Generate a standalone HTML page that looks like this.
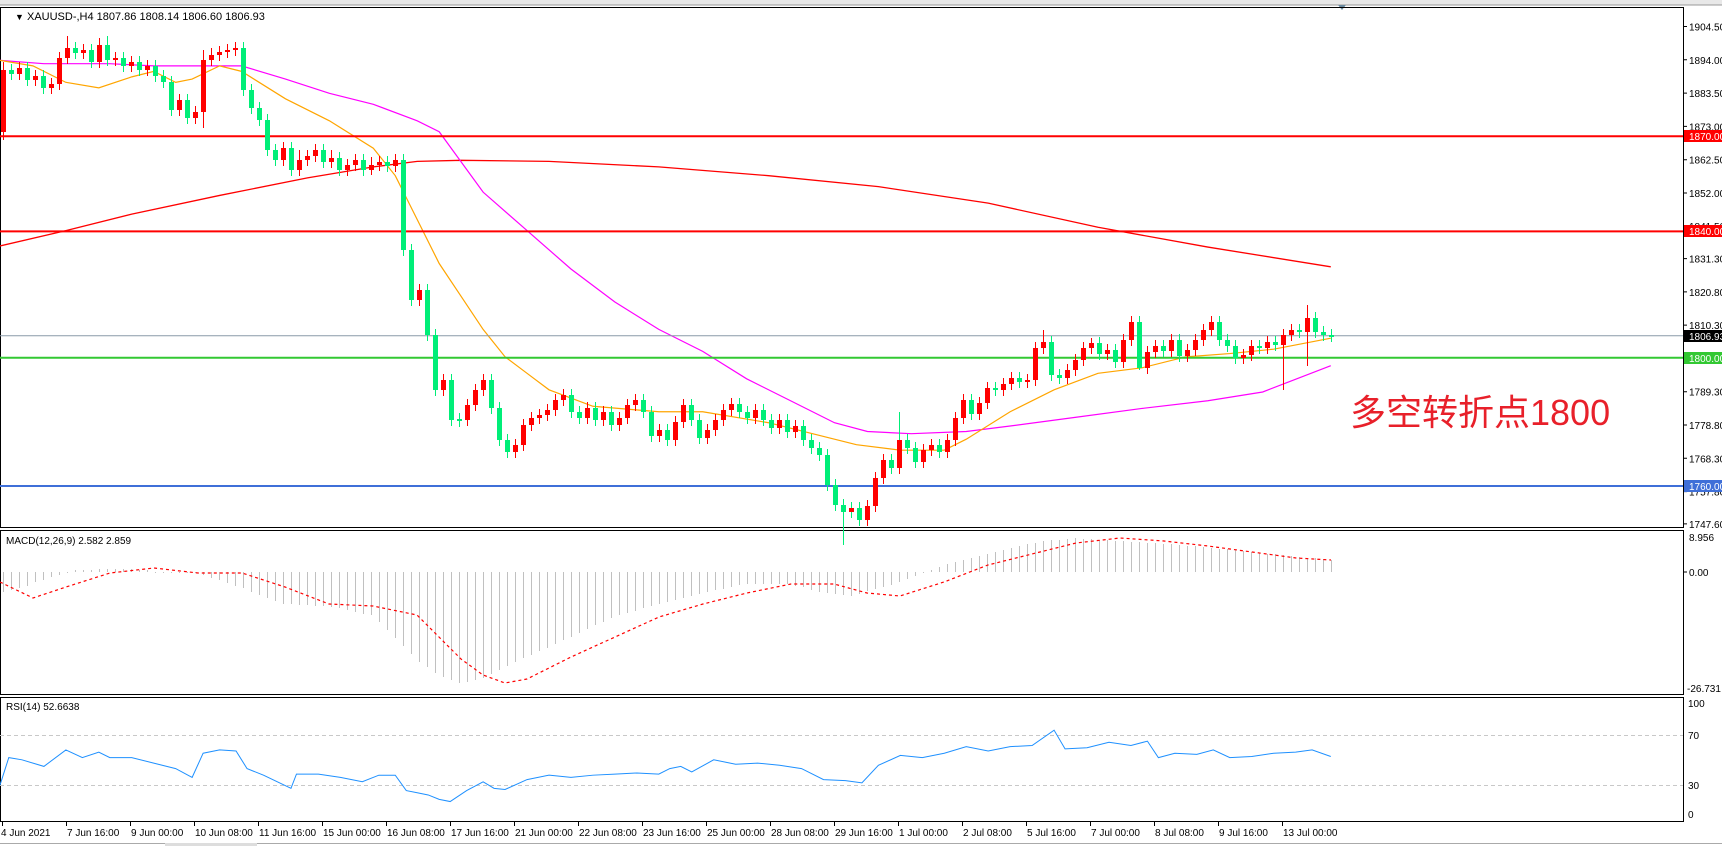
<!DOCTYPE html>
<html><head><meta charset="utf-8"><style>
html,body{margin:0;padding:0;background:#fff;}
svg{display:block;font-family:"Liberation Sans",Arial,sans-serif;}
</style></head><body>
<svg width="1722" height="846" xmlns="http://www.w3.org/2000/svg">
<rect x="0" y="0" width="1722" height="5" fill="#e8e8e8"/><line x1="0" y1="5" x2="1722" y2="5" stroke="#999"/>
<polygon points="1338,5 1346,5 1342,10" fill="#6a8aa0"/>
<rect x="0.5" y="7.5" width="1683" height="520" fill="none" stroke="#000"/>
<rect x="0.5" y="530.5" width="1683" height="164" fill="none" stroke="#000"/>
<rect x="0.5" y="697.5" width="1683" height="124" fill="none" stroke="#000"/>
<line x1="0" y1="843.5" x2="1722" y2="843.5" stroke="#aaa"/><rect x="165" y="843" width="92" height="3" fill="#ddd"/>

<g font-size="10" fill="#000">
<path d="M1683 26.5h4M1683 59.8h4M1683 93.1h4M1683 126.4h4M1683 159.7h4M1683 193h4M1683 226.2h4M1683 258.6h4M1683 291.9h4M1683 325.1h4M1683 391.7h4M1683 425h4M1683 458.3h4M1683 491.6h4M1683 523.9h4M1683 572h4" stroke="#000"/>
<text x="1689" y="30.5">1904.50</text><text x="1689" y="63.8">1894.00</text><text x="1689" y="97.1">1883.50</text><text x="1689" y="130.4">1873.00</text><text x="1689" y="163.7">1862.50</text><text x="1689" y="197">1852.00</text><text x="1689" y="230.2">1841.50</text><text x="1689" y="262.6">1831.30</text><text x="1689" y="295.9">1820.80</text><text x="1689" y="329.1">1810.30</text><text x="1689" y="395.7">1789.30</text><text x="1689" y="429">1778.80</text><text x="1689" y="462.3">1768.30</text><text x="1689" y="495.6">1757.80</text><text x="1689" y="527.9">1747.60</text>
</g>

<g transform="scale(1.098)" fill="none">
<polyline vector-effect="non-scaling-stroke" stroke="#f00" stroke-width="1.3" points="0,224 60,210 120,195 200,178 280,162 340,152 380,147 420,146 500,147 600,152 700,160 800,170 900,185 1000,207 1100,225 1212,243"/>
<polyline vector-effect="non-scaling-stroke" stroke="#f0f" stroke-width="1.2" points="0,55 40,58 100,58 140,60 180,60 220,60 260,72 300,85 340,95 380,110 400,120 440,175 480,210 520,245 560,275 600,300 640,320 680,345 720,365 760,385 790,393 830,395 880,393 920,388 980,380 1040,372 1100,365 1150,357 1212,333"/>
<polyline vector-effect="non-scaling-stroke" stroke="#ffa500" stroke-width="1.2" points="0,55 30,60 60,75 90,80 120,70 140,65 160,75 175,72 200,60 220,65 260,90 300,110 340,135 360,160 380,200 400,240 420,270 440,300 460,325 480,340 500,355 540,370 600,375 640,375 700,385 740,395 780,405 820,410 860,410 880,400 920,375 960,355 1000,340 1040,335 1080,325 1120,322 1160,318 1212,308"/>
</g>

<line x1="0" y1="136.2" x2="1683" y2="136.2" stroke="#f00" stroke-width="2"/>
<line x1="0" y1="231.4" x2="1683" y2="231.4" stroke="#f00" stroke-width="2"/>
<line x1="0" y1="335.8" x2="1683" y2="335.8" stroke="#8a9aa8" stroke-width="1"/>
<line x1="0" y1="357.8" x2="1683" y2="357.8" stroke="#32c832" stroke-width="2"/>
<line x1="0" y1="486" x2="1683" y2="486" stroke="#3f6fd8" stroke-width="2"/>
<g font-size="10" fill="#fff">
<rect x="1684" y="130" width="38" height="12" fill="#f00"/><text x="1689" y="140">1870.00</text>
<rect x="1684" y="225" width="38" height="12" fill="#f00"/><text x="1689" y="235">1840.00</text>
<rect x="1684" y="330" width="38" height="12" fill="#000"/><text x="1689" y="340">1806.93</text>
<rect x="1684" y="352" width="38" height="12" fill="#32c832"/><text x="1689" y="362">1800.00</text>
<rect x="1684" y="480" width="38" height="12" fill="#3f6fd8"/><text x="1689" y="490">1760.00</text>
</g>

<g transform="translate(0.5,0)" fill="none">
<path stroke="#f00" stroke-width="1" d="M3 62V140M19 62V80M35 70V86M51 78V94M59 52V90M67 36V64M83 44V59M99 38V68M115 52V66M131 56V72M147 60V76M179 94V116M195 106V124M203 50V128M211 48V66M219 46V61M227 44V58M235 42V56M283 142V166M299 150V176M307 150V166M315 144V162M331 150V168M347 159V176M355 154V171M371 157V175M379 156V171M395 154V172M419 284V306M443 374V396M467 399V426M475 384V411M483 374V396M515 439V458M523 419V451M531 412V431M539 409V424M547 404V421M555 394V416M563 389V406M587 402V424M603 406V426M619 412V431M627 399V424M635 394V411M659 424V442M675 416V446M683 399V428M707 424V444M715 414V436M723 404V426M731 398V416M755 404V424M779 414V434M795 420V438M851 502V518M867 500V526M875 472V512M883 454V484M899 434V474M923 444V468M931 439V456M947 434V458M955 412V446M963 394V424M979 397V420M987 382V409M1003 378V396M1011 372V390M1027 374V388M1035 342V386M1043 330V354M1067 364V384M1075 354V376M1083 342V366M1091 338V354M1107 344V360M1123 334V368M1131 316V346M1147 346V374M1155 340V358M1171 334V357M1187 344V362M1195 334V356M1203 324V346M1211 316V336M1243 349V364M1251 340V361M1267 336V354M1283 329V390M1291 324V341M1307 305V366"/>
<path stroke="#00ee78" stroke-width="1" d="M11 64V80M27 62V86M43 70V94M75 42V59M91 44V68M107 36V66M123 52V72M139 56V76M155 60V82M163 70V88M171 76V116M187 94V124M243 42V96M251 84V114M259 102V126M267 114V156M275 144V166M291 142V176M323 144V168M339 152V176M363 154V176M387 156V172M403 154V256M411 244V306M427 284V341M435 329V396M451 374V426M459 413V427M491 374V414M499 402V446M507 434V458M571 389V418M579 406V424M595 402V426M611 406V431M643 394V418M651 406V442M667 424V446M691 399V426M699 414V444M739 398V418M747 406V424M763 404V426M771 414V434M787 414V438M803 420V446M811 434V454M819 442V461M827 449V491M835 479V511M843 499V545M851 502V518M859 502V526M891 454V474M899 412V440M907 434V454M915 442V468M939 439V458M971 394V420M995 382V396M1019 372V388M1051 336V381M1059 369V384M1099 337V360M1115 344V368M1139 316V370M1163 340V357M1179 334V362M1219 316V346M1227 334V352M1235 340V364M1259 340V354M1275 336V351M1299 324V338M1315 312V338M1323 326V341M1331 329V342"/>
<path stroke="#f00" stroke-width="5" d="M3 132V70M19 74V68M35 80V76M51 88V84M59 84V58M67 58V48M83 53V50M99 62V45M115 60V58M131 66V62M147 70V66M179 110V100M195 118V112M203 112V60M211 60V55M219 55V52M227 52V50M235 50V48M283 160V148M299 170V160M307 160V156M315 156V150M331 162V158M347 170V165M355 165V160M371 170V165M379 165V162M395 166V160M419 300V290M443 390V380M467 420V405M475 405V390M483 390V380M515 452V445M523 445V425M531 425V418M539 418V415M547 415V410M555 410V400M563 400V395M587 418V408M603 420V412M619 425V418M627 418V405M635 405V400M659 436V430M675 440V422M683 422V405M707 438V430M715 430V420M723 420V410M731 410V404M755 418V410M779 428V420M795 432V426M851 512V508M867 520V506M875 506V478M883 478V460M899 468V440M923 462V450M931 450V445M947 452V440M955 440V418M963 418V400M979 414V403M987 403V388M1003 390V384M1011 384V378M1027 382V380M1035 380V348M1043 348V342M1067 378V370M1075 370V360M1083 360V348M1091 348V343M1107 354V350M1123 362V340M1131 340V322M1147 368V352M1155 352V346M1171 351V340M1187 356V350M1195 350V340M1203 340V330M1211 330V322M1243 358V355M1251 355V346M1267 348V342M1283 345V335M1291 335V330M1307 332V318"/>
<path stroke="#00ee78" stroke-width="5" d="M11 70V74M27 68V80M43 76V88M75 48V53M91 50V62M107 45V60M123 58V66M139 62V70M155 66V76M163 76V82M171 82V110M187 100V118M243 48V90M251 90V108M259 108V120M267 120V150M275 150V160M291 148V170M323 150V162M339 158V170M363 160V170M387 162V166M403 160V250M411 250V300M427 290V335M435 335V390M451 380V420M459 419V421M491 380V408M499 408V440M507 440V452M571 395V412M579 412V418M595 408V420M611 412V425M643 400V412M651 412V436M667 430V440M691 405V420M699 420V438M739 404V412M747 412V418M763 410V420M771 420V428M787 420V432M803 426V440M811 440V448M819 448V455M827 455V485M835 485V505M843 505V512M859 508V520M891 460V468M907 440V448M915 448V462M939 445V452M971 400V414M995 388V390M1019 378V382M1051 342V375M1059 375V378M1099 343V354M1115 350V362M1139 322V368M1163 346V351M1179 340V356M1219 322V340M1227 340V346M1235 346V358M1259 346V348M1275 342V345M1299 330V332M1315 318V332M1323 332V335M1331 335V337"/>
</g>

<text x="15" y="20" font-size="11"><tspan font-size="9">&#9660;</tspan> XAUUSD-,H4  1807.86 1808.14 1806.60 1806.93</text>
<text x="1350" y="425" font-size="36" fill="#e8202a" style="font-family:'Liberation Sans','Noto Sans CJK SC',sans-serif">多空转折点1800</text>

<g transform="translate(0.5,0)">
<path stroke="#c0c0c0" stroke-width="1" fill="none" d="M3 572V592M11 572V590M19 572V588M27 572V586M35 572V582M43 572V580M51 572V577M59 572V575M67 572V573M75 572V570M83 572V570M91 572V570M99 572V569M107 572V569M115 572V569M123 572V569M131 572V569M139 572V570M147 572V570M155 572V573M163 572V573M171 572V573M179 572V573M187 572V573M195 572V573M203 572V575M211 572V578M219 572V580M227 572V583M235 572V586M243 572V588M251 572V592M259 572V595M267 572V598M275 572V601M283 572V604M291 572V604M299 572V605M307 572V605M315 572V606M323 572V606M331 572V607M339 572V608M347 572V610M355 572V612M363 572V614M371 572V615M379 572V622M387 572V630M395 572V638M403 572V646M411 572V654M419 572V662M427 572V667M435 572V673M443 572V677M451 572V680M459 572V683M467 572V682M475 572V680M483 572V678M491 572V674M499 572V670M507 572V666M515 572V662M523 572V658M531 572V655M539 572V651M547 572V648M555 572V644M563 572V640M571 572V637M579 572V633M587 572V629M595 572V625M603 572V622M611 572V618M619 572V615M627 572V613M635 572V611M643 572V608M651 572V606M659 572V604M667 572V602M675 572V600M683 572V598M691 572V596M699 572V594M707 572V592M715 572V590M723 572V589M731 572V587M739 572V585M747 572V584M755 572V584M763 572V584M771 572V584M779 572V584M787 572V584M795 572V586M803 572V587M811 572V590M819 572V592M827 572V593M835 572V594M843 572V595M851 572V596M859 572V594M867 572V591M875 572V589M883 572V587M891 572V585M899 572V582M907 572V579M915 572V576M923 572V573M931 572V570M939 572V567M947 572V564M955 572V562M963 572V560M971 572V558M979 572V556M987 572V554M995 572V552M1003 572V550M1011 572V548M1019 572V546M1027 572V544M1035 572V543M1043 572V541M1051 572V540M1059 572V540M1067 572V539M1075 572V538M1083 572V539M1091 572V539M1099 572V540M1107 572V540M1115 572V541M1123 572V541M1131 572V542M1139 572V542M1147 572V543M1155 572V543M1163 572V544M1171 572V544M1179 572V545M1187 572V546M1195 572V546M1203 572V547M1211 572V548M1219 572V549M1227 572V549M1235 572V550M1243 572V551M1251 572V552M1259 572V553M1267 572V554M1275 572V554M1283 572V555M1291 572V556M1299 572V557M1307 572V558M1315 572V558M1323 572V559M1331 572V560"/>
</g>
<polyline fill="none" stroke="#f00" stroke-width="1.2" stroke-dasharray="3,3" points="0,582 33,598 66,587 110,573 154,568 198,573 242,573 285,587 329,604 373,606 417,615 439,637 461,659 483,675 505,683 527,679 571,657 615,637 659,617 703,604 747,593 791,584 834,584 867,593 900,596 944,582 988,565 1032,554 1076,543 1120,538 1164,541 1208,546 1252,552 1296,558 1331,560"/>
<text x="6" y="544" font-size="10">MACD(12,26,9) 2.582 2.859</text>
<g font-size="10"><text x="1689" y="576">0.00</text><text x="1689" y="541">8.956</text><text x="1687" y="692">-26.731</text></g>

<line x1="0" y1="735.5" x2="1683" y2="735.5" stroke="#c8c8c8" stroke-dasharray="4,3"/>
<line x1="0" y1="785.5" x2="1683" y2="785.5" stroke="#c8c8c8" stroke-dasharray="4,3"/>
<g transform="scale(1.098)"><polyline vector-effect="non-scaling-stroke" fill="none" stroke="#1e90ff" stroke-width="1" points="0,715 8,690 20,692 40,698 60,683 75,690 90,685 100,690 120,690 140,695 160,700 175,708 185,686 200,683 215,684 225,700 240,706 265,718 270,705 290,705 310,708 330,712 345,706 360,706 370,720 380,722 390,724 400,728 410,730 425,720 440,712 450,718 460,719 480,710 500,706 520,708 540,706 560,705 580,704 600,705 610,700 620,698 630,703 650,692 670,696 690,695 710,697 730,700 750,710 770,711 785,713 800,697 820,688 840,690 860,686 880,680 900,684 920,680 940,679 960,665 970,682 990,681 1010,676 1030,679 1045,675 1055,690 1070,686 1090,687 1105,683 1120,690 1140,689 1160,686 1180,685 1195,683 1212,689"/></g>
<text x="6" y="710" font-size="10">RSI(14) 52.6638</text>
<g font-size="10"><text x="1688" y="707">100</text><text x="1688" y="739">70</text><text x="1688" y="789">30</text><text x="1688" y="818">0</text></g>

<path stroke="#000" d="M2.5 822v4M66.5 822v4M130.5 822v4M194.5 822v4M258.5 822v4M322.5 822v4M386.5 822v4M450.5 822v4M514.5 822v4M578.5 822v4M642.5 822v4M706.5 822v4M770.5 822v4M834.5 822v4M898.5 822v4M962.5 822v4M1026.5 822v4M1090.5 822v4M1154.5 822v4M1218.5 822v4M1282.5 822v4"/>
<g font-size="10">
<text x="1" y="836">4 Jun 2021</text><text x="67" y="836">7 Jun 16:00</text><text x="131" y="836">9 Jun 00:00</text><text x="195" y="836">10 Jun 08:00</text><text x="259" y="836">11 Jun 16:00</text><text x="323" y="836">15 Jun 00:00</text><text x="387" y="836">16 Jun 08:00</text><text x="451" y="836">17 Jun 16:00</text><text x="515" y="836">21 Jun 00:00</text><text x="579" y="836">22 Jun 08:00</text><text x="643" y="836">23 Jun 16:00</text><text x="707" y="836">25 Jun 00:00</text><text x="771" y="836">28 Jun 08:00</text><text x="835" y="836">29 Jun 16:00</text><text x="899" y="836">1 Jul 00:00</text><text x="963" y="836">2 Jul 08:00</text><text x="1027" y="836">5 Jul 16:00</text><text x="1091" y="836">7 Jul 00:00</text><text x="1155" y="836">8 Jul 08:00</text><text x="1219" y="836">9 Jul 16:00</text><text x="1283" y="836">13 Jul 00:00</text>
</g>
</svg>
</body></html>
